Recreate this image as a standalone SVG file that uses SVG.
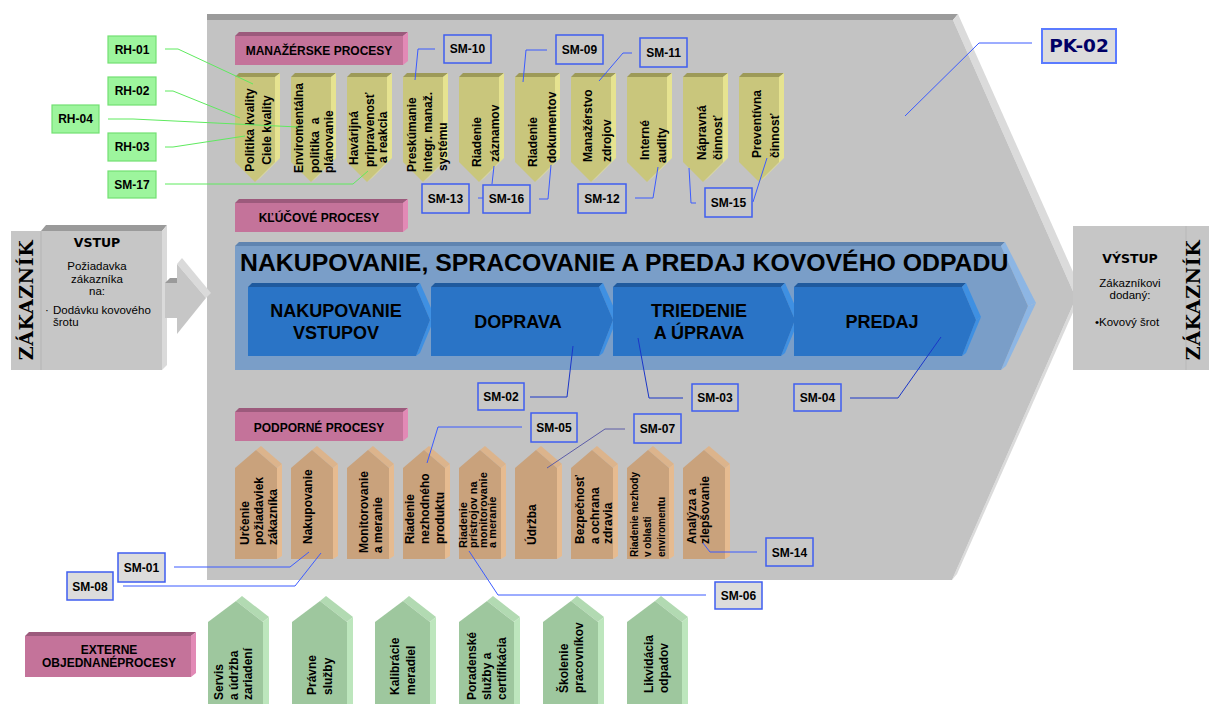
<svg xmlns="http://www.w3.org/2000/svg" xmlns:xlink="http://www.w3.org/1999/xlink" width="1209" height="704" viewBox="0 0 1209 704">
<style>
  .t { font-family: "Liberation Sans", Arial, sans-serif; font-weight: bold; font-size: 12px; fill: #000; }
  .tr { font-family: "Liberation Sans", Arial, sans-serif; font-size: 11.5px; fill: #000; }
  .heavy { font-family: "DejaVu Sans", "Liberation Sans", sans-serif; font-weight: bold; fill: #000; }
  .mono { font-family: "DejaVu Serif", "Liberation Serif", serif; font-weight: bold; font-size: 19px; letter-spacing: 0.6px; fill: #000; }
  .mid { text-anchor: middle; }
  .sm rect { fill: #c8c8c8; stroke: #3f5ef0; stroke-width: 1.5; }
  .sm.out rect { fill: #dcdcdc; }
  .rh rect { fill: #9df59d; stroke: #72e072; stroke-width: 1.2; }
  .ln { fill: none; stroke: #3b5bff; stroke-width: 1; }
  .ln.dark { stroke: #1a36c8; }
  .ln.slate { stroke: #5c5ca8; }
  .lg { fill: none; stroke: #5fea5f; stroke-width: 1; }
  .pk-front { fill: #c4739a; } .pk-top { fill: #9c5a7c; } .pk-side { fill: #e28ab6; }
  .y-front { fill: #c9c67c; } .y-top { fill: #9d9a58; } .y-side { fill: #e6e390; }
  .o-front { fill: #c9a27c; } .o-top { fill: #dcb48c; } .o-side { fill: #e6bb90; }
  .g-front { fill: #9ec79e; } .g-top { fill: #b2dab2; } .g-side { fill: #bde6bd; }
  .b-front { fill: #2a74c6; } .b-top { fill: #1f5a9e; } .b-side { fill: #3f90e2; }
</style>
<defs>
  <!-- management process: pentagon pointing down -->
  <g id="mshape">
    <polygon class="y-top" points="0,77 4,73 45,73 40,77"/>
    <polygon class="y-side" points="40,77 45,73 45,158 25,178 20,182 40,162"/>
    <polygon class="y-front" points="0,77 40,77 40,162 20,182 0,162"/>
  </g>
  <!-- support process: pentagon pointing up -->
  <g id="sshape">
    <polygon class="o-top" points="21,450 26,446 47,464 42,468"/>
    <polygon class="o-side" points="42,468 47,464 47,556 42,559"/>
    <polygon class="o-front" points="0,468 21,450 42,468 42,559 0,559"/>
  </g>
  <!-- external process: pentagon pointing up -->
  <g id="eshape">
    <polygon class="g-top" points="28,601 34,596 61,617 55,622"/>
    <polygon class="g-side" points="55,622 61,617 61,710 55,710"/>
    <polygon class="g-front" points="0,622 28,601 55,622 55,710 0,710"/>
  </g>
  <!-- section header bar -->
  <g id="pshape">
    <polygon class="pk-top" points="0,4 4,0 173,0 168,4"/>
    <polygon class="pk-side" points="168,4 173,0 173,29 168,33"/>
    <rect class="pk-front" x="0" y="4" width="168" height="29"/>
  </g>
  <!-- key process chevron -->
  <g id="cshape">
    <polygon class="b-top" points="0,287 4,283 172,283 168,287"/>
    <polygon class="b-side" points="168,287 172,283 187,317 182,320"/>
    <polygon class="b-side" points="182,320 187,317 172,353 168,356"/>
    <polygon class="b-front" points="0,287 168,287 182,320 168,356 0,356"/>
  </g>
</defs>

<rect width="1209" height="704" fill="#ffffff"/>

<!-- main process area -->
<g id="pk-area">
  <polygon fill="#9b9b9b" points="207,20 207,14 958,14 953,20"/>
  <polygon fill="#dbdbdb" points="953,20 958,14 1082,292 1076,298"/>
  <polygon fill="#dbdbdb" points="1076,298 1082,292 957,574 952,580"/>
  <polygon fill="#c3c3c3" points="207,20 953,20 1076,298 952,580 207,580"/>
</g>

<!-- customer input -->
<g id="vstup">
  <rect x="11" y="231" width="30" height="139" fill="#c6c6c6"/>
  <polygon fill="#9a9a9a" points="41,231 46,225 167,225 162,231"/>
  <polygon fill="#dadada" points="162,231 167,225 167,365 162,370"/>
  <rect x="41" y="231" width="121" height="139" fill="#c6c6c6"/>
  <line x1="41" y1="231" x2="41" y2="370" stroke="#b4b4b4" stroke-width="1"/>
  <polygon fill="#9a9a9a" points="165,283 170,278 181,278 177,283"/>
  <rect x="165" y="283" width="13" height="35" fill="#c6c6c6"/>
  <polygon fill="#dadada" points="177,264 182,258 211,293 206,298"/>
  <polygon fill="#c6c6c6" points="177,264 206,298 177,334"/>
  <text class="mono mid" transform="rotate(-90 33 300)" x="33" y="300">ZÁKAZNÍK</text>
  <text class="heavy mid" x="97" y="247" style="font-size:12.5px">VSTUP</text>
  <text class="tr mid" x="97" y="270">Požiadavka</text>
  <text class="tr mid" x="97" y="283">zákazníka</text>
  <text class="tr mid" x="97" y="295">na:</text>
  <text class="tr" x="45" y="314">·</text>
  <text class="tr" x="53" y="314">Dodávku kovového</text>
  <text class="tr" x="53" y="326">šrotu</text>
</g>

<!-- customer output -->
<g id="vystup">
  <rect x="1073" y="226" width="136" height="144" fill="#c6c6c6"/>
  <line x1="1186" y1="226" x2="1186" y2="370" stroke="#b8b8b8" stroke-width="1"/>
  <text class="heavy mid" x="1130" y="263" style="font-size:12.5px">VÝSTUP</text>
  <text class="tr mid" x="1130" y="287">Zákazníkovi</text>
  <text class="tr mid" x="1130" y="299">dodaný:</text>
  <text class="tr" x="1095" y="326">•Kovový šrot</text>
  <text class="mono mid" transform="rotate(-90 1200 300)" x="1200" y="300">ZÁKAZNÍK</text>
</g>

<!-- section headers -->
<g id="hdr-manazerske" transform="translate(235,32)">
  <use xlink:href="#pshape"/>
  <text class="t mid" x="84" y="23">MANAŽÉRSKE PROCESY</text>
</g>
<g id="hdr-klucove" transform="translate(235,199)">
  <use xlink:href="#pshape"/>
  <text class="t mid" x="84" y="23">KĽÚČOVÉ PROCESY</text>
</g>
<g id="hdr-podporne" transform="translate(235,408)">
  <use xlink:href="#pshape"/>
  <text class="t mid" x="84" y="24">PODPORNÉ PROCESY</text>
</g>
<g id="hdr-externe">
  <polygon class="pk-top" points="25,636 29,632 196,632 191,636"/>
  <polygon class="pk-side" points="191,636 196,632 196,673 191,677"/>
  <rect class="pk-front" x="25" y="636" width="166" height="41"/>
  <text class="t mid" x="109" y="654">EXTERNE</text>
  <text class="t mid" x="109" y="667">OBJEDNANÉPROCESY</text>
</g>

<!-- management processes -->
<g id="mp-01" transform="translate(235,0)">
  <use xlink:href="#mshape"/>
  <text class="t mid" transform="rotate(-90 19 130)" x="19" y="130">Politika kvality</text>
  <text class="t mid" transform="rotate(-90 36 130)" x="36" y="130">Ciele kvality</text>
</g>
<g id="mp-02" transform="translate(291,0)">
  <use xlink:href="#mshape"/>
  <text class="t" transform="rotate(-90 12 173)" x="12" y="173">Enviromentálna</text>
  <text class="t" transform="rotate(-90 28 173)" x="28" y="173" xml:space="preserve">politika  a</text>
  <text class="t" transform="rotate(-90 42 173)" x="42" y="173">plánovanie</text>
</g>
<g id="mp-03" transform="translate(347,0)">
  <use xlink:href="#mshape"/>
  <text class="t" transform="rotate(-90 11 165)" x="11" y="165">Havárijná</text>
  <text class="t" transform="rotate(-90 27 167)" x="27" y="167">pripravenosť</text>
  <text class="t" transform="rotate(-90 40 163)" x="40" y="163">a reakcia</text>
</g>
<g id="mp-04" transform="translate(403,0)">
  <use xlink:href="#mshape"/>
  <text class="t" transform="rotate(-90 13 172)" x="13" y="172">Preskúmanie</text>
  <text class="t" transform="rotate(-90 29 172)" x="29" y="172">integr. manaž.</text>
  <text class="t" transform="rotate(-90 44 171)" x="44" y="171">systému</text>
</g>
<g id="mp-05" transform="translate(459,0)">
  <use xlink:href="#mshape"/>
  <text class="t" transform="rotate(-90 22 167)" x="22" y="167">Riadenie</text>
  <text class="t" transform="rotate(-90 40 162)" x="40" y="162">záznamov</text>
</g>
<g id="mp-06" transform="translate(515,0)">
  <use xlink:href="#mshape"/>
  <text class="t" transform="rotate(-90 22 167)" x="22" y="167">Riadenie</text>
  <text class="t" transform="rotate(-90 41 163)" x="41" y="163">dokumentov</text>
</g>
<g id="mp-07" transform="translate(571,0)">
  <use xlink:href="#mshape"/>
  <text class="t" transform="rotate(-90 21 162)" x="21" y="162">Manažérstvo</text>
  <text class="t" transform="rotate(-90 40 162)" x="40" y="162">zdrojov</text>
</g>
<g id="mp-08" transform="translate(627,0)">
  <use xlink:href="#mshape"/>
  <text class="t" transform="rotate(-90 22 160)" x="22" y="160">Interné</text>
  <text class="t" transform="rotate(-90 39 163)" x="39" y="163">audity</text>
</g>
<g id="mp-09" transform="translate(683,0)">
  <use xlink:href="#mshape"/>
  <text class="t" transform="rotate(-90 23 160)" x="23" y="160">Nápravná</text>
  <text class="t" transform="rotate(-90 39 160)" x="39" y="160">činnosť</text>
</g>
<g id="mp-10" transform="translate(739,0)">
  <use xlink:href="#mshape"/>
  <text class="t" transform="rotate(-90 22 158)" x="22" y="158">Preventívna</text>
  <text class="t" transform="rotate(-90 40 158)" x="40" y="158">činnosť</text>
</g>

<!-- key process band -->
<g id="kp-band">
  <polygon fill="#5f84b0" points="235,246 239,242 1005,242 1001,246"/>
  <polygon fill="#8db6e4" points="1001,246 1005,242 1036,303 1028,306"/>
  <polygon fill="#8db6e4" points="1028,306 1036,303 1006,366 1001,370"/>
  <polygon fill="#7a9ec8" points="235,246 1001,246 1028,306 1001,370 235,370"/>
  <text class="t" x="240" y="271" style="font-size:24.8px">NAKUPOVANIE, SPRACOVANIE A PREDAJ KOVOVÉHO ODPADU</text>
</g>
<g id="kp-01" transform="translate(248,0)">
  <use xlink:href="#cshape"/>
  <text class="t mid" x="88" y="317" style="font-size:18px">NAKUPOVANIE</text>
  <text class="t mid" x="88" y="339" style="font-size:18px">VSTUPOV</text>
</g>
<g id="kp-02" transform="translate(431,0)">
  <use xlink:href="#cshape"/>
  <text class="t mid" x="87" y="328" style="font-size:18px">DOPRAVA</text>
</g>
<g id="kp-03" transform="translate(613,0)">
  <use xlink:href="#cshape"/>
  <text class="t mid" x="86" y="317" style="font-size:18px">TRIEDENIE</text>
  <text class="t mid" x="86" y="339" style="font-size:18px">A ÚPRAVA</text>
</g>
<g id="kp-04" transform="translate(794,0)">
  <use xlink:href="#cshape"/>
  <text class="t mid" x="88" y="328" style="font-size:18px">PREDAJ</text>
</g>

<!-- support processes -->
<g id="sp-01" transform="translate(235,0)">
  <use xlink:href="#sshape"/>
  <text class="t" transform="rotate(-90 14 545)" x="14" y="545">Určenie</text>
  <text class="t" transform="rotate(-90 28 545)" x="28" y="545">požiadaviek</text>
  <text class="t" transform="rotate(-90 42 545)" x="42" y="545">zákazníka</text>
</g>
<g id="sp-02" transform="translate(291,0)">
  <use xlink:href="#sshape"/>
  <text class="t" transform="rotate(-90 21 544)" x="21" y="544">Nakupovanie</text>
</g>
<g id="sp-03" transform="translate(347,0)">
  <use xlink:href="#sshape"/>
  <text class="t" transform="rotate(-90 21 553)" x="21" y="553">Monitorovanie</text>
  <text class="t" transform="rotate(-90 35 553)" x="35" y="553">a meranie</text>
</g>
<g id="sp-04" transform="translate(403,0)">
  <use xlink:href="#sshape"/>
  <text class="t" transform="rotate(-90 11 544)" x="11" y="544">Riadenie</text>
  <text class="t" transform="rotate(-90 26 544)" x="26" y="544">nezhodného</text>
  <text class="t" transform="rotate(-90 41 544)" x="41" y="544">produktu</text>
</g>
<g id="sp-05" transform="translate(459,0)">
  <use xlink:href="#sshape"/>
  <text class="t" style="font-size:11px" transform="rotate(-90 8 548)" x="8" y="548">Riadenie</text>
  <text class="t" style="font-size:11px" transform="rotate(-90 18 548)" x="18" y="548">prístrojov na</text>
  <text class="t" style="font-size:11px" transform="rotate(-90 28 548)" x="28" y="548">monitorovanie</text>
  <text class="t" style="font-size:11px" transform="rotate(-90 37 548)" x="37" y="548">a meranie</text>
</g>
<g id="sp-06" transform="translate(515,0)">
  <use xlink:href="#sshape"/>
  <text class="t" transform="rotate(-90 21 545)" x="21" y="545">Údržba</text>
</g>
<g id="sp-07" transform="translate(571,0)">
  <use xlink:href="#sshape"/>
  <text class="t" transform="rotate(-90 13 544)" x="13" y="544">Bezpečnosť</text>
  <text class="t" transform="rotate(-90 28 544)" x="28" y="544">a ochrana</text>
  <text class="t" transform="rotate(-90 41 544)" x="41" y="544">zdravia</text>
</g>
<g id="sp-08" transform="translate(627,0)">
  <use xlink:href="#sshape"/>
  <text class="t" style="font-size:10px" transform="rotate(-90 11 557)" x="11" y="557">Riadenie nezhody</text>
  <text class="t" style="font-size:10px" transform="rotate(-90 24 557)" x="24" y="557">v oblasti</text>
  <text class="t" style="font-size:10px" transform="rotate(-90 38 557)" x="38" y="557">enviromentu</text>
</g>
<g id="sp-09" transform="translate(683,0)">
  <use xlink:href="#sshape"/>
  <text class="t" transform="rotate(-90 13 544)" x="13" y="544">Analýza a</text>
  <text class="t" transform="rotate(-90 26 544)" x="26" y="544">zlepšovanie</text>
</g>

<!-- externally ordered processes -->
<g id="ep-01" transform="translate(208,0)">
  <use xlink:href="#eshape"/>
  <text class="t" transform="rotate(-90 15 700)" x="15" y="700">Servis</text>
  <text class="t" transform="rotate(-90 30 700)" x="30" y="700">a údržba</text>
  <text class="t" transform="rotate(-90 44 700)" x="44" y="700">zariadení</text>
</g>
<g id="ep-02" transform="translate(292,0)">
  <use xlink:href="#eshape"/>
  <text class="t" transform="rotate(-90 24 695)" x="24" y="695">Právne</text>
  <text class="t" transform="rotate(-90 40 695)" x="40" y="695">služby</text>
</g>
<g id="ep-03" transform="translate(375,0)">
  <use xlink:href="#eshape"/>
  <text class="t" transform="rotate(-90 24 695)" x="24" y="695">Kalibrácie</text>
  <text class="t" transform="rotate(-90 40 695)" x="40" y="695">meradiel</text>
</g>
<g id="ep-04" transform="translate(459,0)">
  <use xlink:href="#eshape"/>
  <text class="t" transform="rotate(-90 17 700)" x="17" y="700">Poradenské</text>
  <text class="t" transform="rotate(-90 32 700)" x="32" y="700">služby a</text>
  <text class="t" transform="rotate(-90 47 700)" x="47" y="700">certifikácia</text>
</g>
<g id="ep-05" transform="translate(543,0)">
  <use xlink:href="#eshape"/>
  <text class="t" transform="rotate(-90 25 693)" x="25" y="693">Školenie</text>
  <text class="t" transform="rotate(-90 40 693)" x="40" y="693">pracovníkov</text>
</g>
<g id="ep-06" transform="translate(627,0)">
  <use xlink:href="#eshape"/>
  <text class="t" transform="rotate(-90 26 693)" x="26" y="693">Likvidácia</text>
  <text class="t" transform="rotate(-90 41 693)" x="41" y="693">odpadov</text>
</g>

<!-- connectors -->
<g id="connectors">
  <polyline class="lg" points="165,49 178,49 253,84"/>
  <polyline class="lg" points="165,91 173,91 240,118"/>
  <polyline class="lg" points="108,119 133,119 298,127"/>
  <polyline class="lg" points="165,147 173,147 245,136"/>
  <polyline class="lg" points="165,184 353,184 368,171"/>
  <polyline class="ln" points="435,49 418,49 415,80"/>
  <polyline class="ln" points="547,50 526,50 523,82"/>
  <polyline class="ln" points="632,53 623,53 599,81"/>
  <polyline class="ln" points="478,198 483,198"/>
  <polyline class="ln" points="492,184 494,166"/>
  <polyline class="ln" points="539,199 548,199 551,165"/>
  <polyline class="ln" points="635,198 653,198 658,167"/>
  <polyline class="ln" points="689,168 691,203 696,203"/>
  <polyline class="ln" points="753,202 767,158"/>
  <polyline class="ln" points="1032,43 979,43 905,116"/>
  <polyline class="ln dark" points="530,397 567,397 573,346"/>
  <polyline class="ln dark" points="683,398 649,398 638,338"/>
  <polyline class="ln dark" points="850,398 898,398 941,337"/>
  <polyline class="ln" points="522,427 438,427 427,463"/>
  <polyline class="ln slate" points="625,429 605,429 547,468"/>
  <polyline class="ln" points="757,552 710,552 703,543"/>
  <polyline class="ln" points="706,595 498,595 469,551"/>
  <polyline class="ln" points="174,567 290,567 309,552"/>
  <polyline class="ln" points="123,586 295,586 321,553"/>
</g>

<!-- reference labels -->
<g id="rh-01" class="rh"><rect x="108" y="36" width="48" height="27"/><text class="t mid" x="132" y="54">RH-01</text></g>
<g id="rh-02" class="rh"><rect x="108" y="77" width="48" height="28"/><text class="t mid" x="132" y="95">RH-02</text></g>
<g id="rh-04" class="rh"><rect x="52" y="105" width="47" height="28"/><text class="t mid" x="75.5" y="123">RH-04</text></g>
<g id="rh-03" class="rh"><rect x="108" y="133" width="48" height="28"/><text class="t mid" x="132" y="151">RH-03</text></g>
<g id="sm-17" class="rh"><rect x="108" y="171" width="48" height="27"/><text class="t mid" x="132" y="189">SM-17</text></g>

<g id="pk-02">
  <rect x="1042" y="29" width="74" height="34" fill="#dcdcdc" stroke="#5b7bff" stroke-width="2"/>
  <text class="heavy mid" x="1079" y="52" style="font-size:18.5px;fill:#000066">PK-02</text>
</g>

<g id="sm-10" class="sm"><rect x="444" y="35" width="47" height="28"/><text class="t mid" x="467.5" y="53">SM-10</text></g>
<g id="sm-09" class="sm"><rect x="556" y="35" width="47" height="29"/><text class="t mid" x="579.5" y="54">SM-09</text></g>
<g id="sm-11" class="sm"><rect x="640" y="38" width="47" height="29"/><text class="t mid" x="663.5" y="57">SM-11</text></g>
<g id="sm-13" class="sm"><rect x="422" y="184" width="47" height="29"/><text class="t mid" x="445.5" y="203">SM-13</text></g>
<g id="sm-16" class="sm"><rect x="483" y="185" width="47" height="28"/><text class="t mid" x="506.5" y="203">SM-16</text></g>
<g id="sm-12" class="sm"><rect x="578" y="184" width="48" height="29"/><text class="t mid" x="602" y="203">SM-12</text></g>
<g id="sm-15" class="sm"><rect x="705" y="188" width="47" height="29"/><text class="t mid" x="728.5" y="207">SM-15</text></g>
<g id="sm-02" class="sm"><rect x="478" y="383" width="46" height="27"/><text class="t mid" x="501" y="401">SM-02</text></g>
<g id="sm-03" class="sm"><rect x="692" y="384" width="46" height="27"/><text class="t mid" x="715" y="402">SM-03</text></g>
<g id="sm-04" class="sm"><rect x="794" y="384" width="47" height="27"/><text class="t mid" x="817.5" y="402">SM-04</text></g>
<g id="sm-05" class="sm"><rect x="531" y="413" width="46" height="29"/><text class="t mid" x="554" y="432">SM-05</text></g>
<g id="sm-07" class="sm"><rect x="634" y="414" width="47" height="29"/><text class="t mid" x="657.5" y="433">SM-07</text></g>
<g id="sm-14" class="sm"><rect x="766" y="538" width="47" height="28"/><text class="t mid" x="789.5" y="557">SM-14</text></g>
<g id="sm-06" class="sm out"><rect x="715" y="582" width="47" height="27"/><text class="t mid" x="738.5" y="600">SM-06</text></g>
<g id="sm-01" class="sm out"><rect x="118" y="553" width="47" height="29"/><text class="t mid" x="141.5" y="572">SM-01</text></g>
<g id="sm-08" class="sm out"><rect x="67" y="572" width="46" height="28"/><text class="t mid" x="90" y="591">SM-08</text></g>
</svg>
